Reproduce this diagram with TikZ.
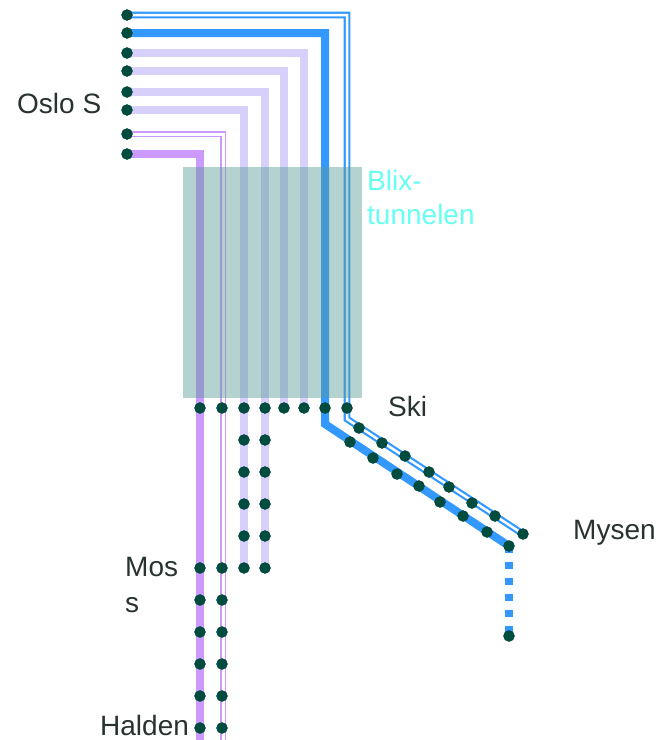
\documentclass[tikz,border=0pt]{standalone}
\usepackage{fontspec}
\setmainfont{Liberation Sans}
\usetikzlibrary{backgrounds}
\definecolor{blaa}{RGB}{51,153,255}
\definecolor{lilla}{RGB}{204,153,255}
\definecolor{lavendel}{RGB}{215,208,250}
\definecolor{stopc}{RGB}{0,77,64}
\definecolor{tunnelc}{RGB}{89,155,151}
\definecolor{tekstc}{RGB}{40,50,47}
\definecolor{blixc}{RGB}{102,255,240}

\begin{document}
\begin{tikzpicture}[x=1pt,y=-1pt,
		stop/.style={draw=stopc!80!black,circle,inner sep=0pt,minimum size=11pt,fill=stopc},
		lav/.style={draw=lavendel,line width=7.5pt},
		tykk/.style={line width=8pt},
		dobbel/.style={line width=2.2pt,double=white,double distance=2.5pt},
		navn/.style={text=tekstc,inner sep=0pt,font=\fontsize{28}{36}\selectfont,align=left}]
		\useasboundingbox (0,0) rectangle (661,740);

		% stasjoner ved Oslo S
		\node[stop] (o1) at (127,15) {};  \node[stop] (o2) at (127,33) {};
		\node[stop] (o3) at (127,53) {};  \node[stop] (o4) at (127,71) {};
		\node[stop] (o5) at (127,92) {};  \node[stop] (o6) at (127,110) {};
		\node[stop] (o7) at (127,134) {}; \node[stop] (o8) at (127,154) {};

		% raden under tunnelen
		\node[stop] (k1) at (200,408) {}; \node[stop] (k2) at (222,408) {};
		\node[stop] (k3) at (244,408) {}; \node[stop] (k4) at (265,408) {};
		\node[stop] (k5) at (284,408) {}; \node[stop] (k6) at (304,408) {};
		\node[stop] (k7) at (325,408) {}; \node[stop] (k8) at (347,408) {};

		% korte linjer mot Moss
		\node[stop] (s1) at (244,440) {}; \node[stop] (r1) at (265,440) {};
		\node[stop] (s2) at (244,472) {}; \node[stop] (r2) at (265,472) {};
		\node[stop] (s3) at (244,504) {}; \node[stop] (r3) at (265,504) {};
		\node[stop] (s4) at (244,536) {}; \node[stop] (r4) at (265,536) {};
		\node[stop] (s5) at (244,568) {}; \node[stop] (r5) at (265,568) {};

		% Moss - Halden
		\node[stop] (m1) at (200,568) {}; \node[stop] (n1) at (222,568) {};
		\node[stop] (m2) at (200,600) {}; \node[stop] (n2) at (222,600) {};
		\node[stop] (m3) at (200,632) {}; \node[stop] (n3) at (222,632) {};
		\node[stop] (m4) at (200,664) {}; \node[stop] (n4) at (222,664) {};
		\node[stop] (m5) at (200,696) {}; \node[stop] (n5) at (222,696) {};
		\node[stop] (m6) at (200,728) {}; \node[stop] (n6) at (222,728) {};

		% Ski - Mysen
		\node[stop] (t1) at (350,442) {}; \node[stop] (d1) at (359,428) {};
		\node[stop] (t2) at (373,458) {}; \node[stop] (d2) at (382,443) {};
		\node[stop] (t3) at (397,474) {}; \node[stop] (d3) at (405,456) {};
		\node[stop] (t4) at (419,486) {}; \node[stop] (d4) at (429,472) {};
		\node[stop] (t5) at (440,502) {}; \node[stop] (d5) at (449,487) {};
		\node[stop] (t6) at (463,516) {}; \node[stop] (d6) at (472,503) {};
		\node[stop] (t7) at (487,532) {}; \node[stop] (d7) at (495,516) {};
		\node[stop] (t8) at (509,546) {}; \node[stop] (d8) at (523,534) {};
		\node[stop] (t9) at (509,636) {};

		\coordinate (b1) at (347,419);
		\coordinate (b2) at (325,424);
		\coordinate (h7) at (223,745);
		\coordinate (h8) at (200,745);

		% linjene og tunnelen
		\begin{scope}[on background layer]
			\path[draw=blaa,dobbel] (o1.center) -| (b1) -- (d8.center);
			\path[draw=blaa,tykk] (o2.center) -| (b2) -- (t8.center);
			\path[draw=blaa,tykk,dash pattern=on 7pt off 9pt] (t8.center) -- (t9.center);
			\path[lav] (o3.center) -| (k6.center);
			\path[lav] (o4.center) -| (k5.center);
			\path[lav] (o5.center) -| (r5.center);
			\path[lav] (o6.center) -| (s5.center);
			\path[draw=lilla,line width=1.6pt,double=white,double distance=3pt] (o7.center) -| (h7);
			\path[draw=lilla,tykk] (o8.center) -| (h8);
			\fill[tunnelc,opacity=0.45] (183,167) rectangle (362,398);
		\end{scope}

		% navn
		\node[navn,anchor=base west] (oslo) at (17,113) {Oslo S};
		\node[navn,anchor=base west] (ski) at (388,416) {Ski};
		\node[navn,anchor=base west] (mysen) at (573,539) {Mysen};
		\node[navn,anchor=north west] (moss) at (125,557) {Mos\\s};
		\node[navn,anchor=base west] (halden) at (100,735) {Halden};
		\node[navn,anchor=north west,text=blixc,font=\fontsize{28}{34}\selectfont] (blix) at (367,170) {Blix-\\tunnelen};
	\end{tikzpicture}
\end{document}
